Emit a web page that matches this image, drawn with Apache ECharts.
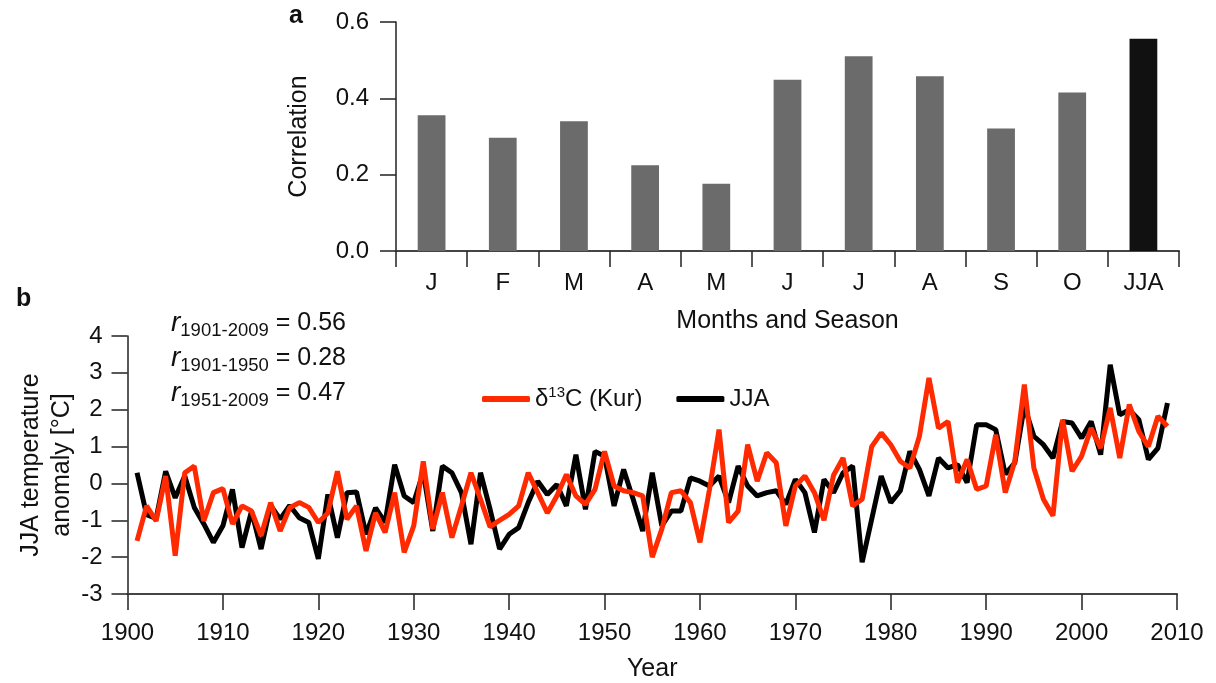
<!DOCTYPE html>
<html>
<head>
<meta charset="utf-8">
<script src="https://cdn.jsdelivr.net/npm/echarts@6/dist/echarts.min.js"></script>
<style>
  html, body { margin: 0; padding: 0; background: #fff; }
  #chart { width: 1216px; height: 683px; }
</style>
</head>
<body>
<div id="chart"></div>
<script>
// Panel a: correlation of δ13C with monthly and summer (JJA) temperature
const months = ['J', 'F', 'M', 'A', 'M', 'J', 'J', 'A', 'S', 'O', 'JJA'];
const correlations = [0.356, 0.297, 0.340, 0.225, 0.176, 0.449, 0.510, 0.458, 0.321, 0.415, 0.556];

// Panel b: annual series 1901-2009
const firstYear = 1901;
const jjaAnomaly = [
  0.29, -0.85, -0.95, 0.33, -0.39, 0.20, -0.65, -1.10, -1.60, -1.15,
  -0.16, -1.74, -0.75, -1.78, -0.60, -0.97, -0.60, -0.93, -1.06, -2.05,
  -0.30, -1.47, -0.25, -0.23, -1.38, -0.66, -1.06, 0.51, -0.34, -0.52,
  0.30, -1.29, 0.47, 0.29, -0.25, -1.65, 0.29, -0.70, -1.78, -1.38,
  -1.20, -0.52, 0.06, -0.30, -0.03, -0.61, 0.78, -0.70, 0.87, 0.74,
  -0.61, 0.38, -0.43, -1.29, 0.29, -1.15, -0.75, -0.75, 0.15, 0.06,
  -0.07, 0.20, -0.52, 0.47, -0.07, -0.34, -0.25, -0.20, -0.57, 0.11,
  -0.25, -1.33, 0.11, -0.25, 0.29, 0.47, -2.14, -0.97, 0.20, -0.52,
  -0.20, 0.87, 0.38, -0.34, 0.69, 0.42, 0.51, 0.02, 1.59, 1.59,
  1.46, 0.25, 0.56, 2.10, 1.28, 1.05, 0.69, 1.68, 1.64, 1.23,
  1.68, 0.78, 3.22, 1.86, 2.00, 1.73, 0.65, 0.96, 2.18
];
const d13cKur = [
  -1.56, -0.61, -1.02, 0.20, -1.96, 0.29, 0.47, -1.02, -0.25, -0.14,
  -1.10, -0.61, -0.75, -1.42, -0.52, -1.29, -0.66, -0.52, -0.65, -1.06,
  -0.80, 0.33, -0.97, -0.61, -1.83, -0.80, -1.33, -0.25, -1.87, -1.15,
  0.60, -1.24, -0.25, -1.47, -0.61, 0.29, -0.43, -1.18, -1.00, -0.84,
  -0.61, 0.29, -0.25, -0.80, -0.34, 0.24, -0.34, -0.57, -0.16, 0.87,
  -0.07, -0.20, -0.25, -0.34, -2.00, -1.24, -0.25, -0.20, -0.52, -1.60,
  -0.16, 1.46, -1.06, -0.75, 1.05, 0.06, 0.83, 0.56, -1.15, -0.07,
  0.20, -0.25, -1.00, 0.22, 0.69, -0.61, -0.43, 1.00, 1.37, 1.05,
  0.60, 0.42, 1.28, 2.86, 1.50, 1.68, 0.02, 0.65, -0.16, -0.07,
  1.32, -0.25, 0.60, 2.68, 0.42, -0.43, -0.88, 1.73, 0.33, 0.74,
  1.50, 0.96, 2.05, 0.69, 2.14, 1.41, 1.00, 1.82, 1.55
];

// Correlation statistics printed in panel b
const statPeriods = ['1901-2009', '1901-1950', '1951-2009'];
const statValues = ['0.56', '0.28', '0.47'];

const FONT = '"Liberation Sans", Arial, Helvetica, sans-serif';
const INK = '#111';
const GREY_BAR = '#6b6b6b';
const JJA_BAR = '#111111';
const RED = '#ff2a00';
const TICK_FS = 24;
const NAME_FS = 25;

const toPairs = (vals) => vals.map((v, i) => [firstYear + i, v]);

const chart = echarts.init(document.getElementById('chart'), null, { renderer: 'canvas' });

const axisLineStyle = { lineStyle: { color: '#222', width: 1.5 } };
const tickStyle = { show: true, inside: false, length: 16, lineStyle: { color: '#222', width: 1.5 } };
const labelBase = { color: INK, fontSize: TICK_FS, fontFamily: FONT };
const nameStyle = { color: INK, fontSize: NAME_FS, fontFamily: FONT };

const statsText = statPeriods
  .map((p, i) => `{r|r}{s|${p}}{e| = ${statValues[i]}}`)
  .join('\n');

chart.setOption({
  animation: false,
  backgroundColor: '#fff',
  textStyle: { fontFamily: FONT },
  grid: [
    { left: 396, top: 22, width: 783, height: 229 },
    { left: 127.5, top: 336, width: 1049.5, height: 259 }
  ],
  xAxis: [
    {
      gridIndex: 0,
      type: 'category',
      data: months,
      boundaryGap: true,
      axisLine: { lineStyle: { color: '#444', width: 2 } },
      axisTick: Object.assign({}, tickStyle, { interval: 0 }),
      axisLabel: Object.assign({}, labelBase, { interval: 0, margin: 20 }),
      name: 'Months and Season',
      nameLocation: 'middle',
      nameGap: 58,
      nameTextStyle: nameStyle
    },
    {
      gridIndex: 1,
      type: 'value',
      min: 1900,
      max: 2010,
      interval: 10,
      axisLine: { onZero: false, lineStyle: { color: '#444', width: 2 } },
      axisTick: tickStyle,
      axisLabel: Object.assign({}, labelBase, { margin: 27, formatter: (v) => String(v) }),
      splitLine: { show: false },
      name: 'Year',
      nameLocation: 'middle',
      nameGap: 63,
      nameTextStyle: nameStyle
    }
  ],
  yAxis: [
    {
      gridIndex: 0,
      type: 'value',
      min: 0,
      max: 0.6,
      interval: 0.2,
      axisLine: Object.assign({ show: true }, axisLineStyle),
      axisTick: tickStyle,
      axisLabel: Object.assign({}, labelBase, { margin: 27, formatter: (v) => v.toFixed(1) }),
      splitLine: { show: false },
      name: 'Correlation',
      nameLocation: 'middle',
      nameGap: 84,
      nameTextStyle: nameStyle
    },
    {
      gridIndex: 1,
      type: 'value',
      min: -3,
      max: 4,
      interval: 1,
      axisLine: Object.assign({ show: true, onZero: false }, axisLineStyle),
      axisTick: tickStyle,
      axisLabel: Object.assign({}, labelBase, { margin: 25 }),
      splitLine: { show: false },
      name: 'JJA temperature\nanomaly [°C]',
      nameLocation: 'middle',
      nameGap: 50,
      nameMoveOverlap: false,
      nameTextStyle: Object.assign({ lineHeight: 31 }, nameStyle)
    }
  ],
  legend: {
    left: 477,
    top: 380,
    itemWidth: 48,
    itemHeight: 6,
    itemGap: 34,
    icon: 'roundRect',
    data: ['δ13C (Kur)', 'JJA'],
    formatter: (name) => (name === 'δ13C (Kur)' ? '{t|δ}{sup|13}{t|C (Kur)}' : '{t|' + name + '}'),
    textStyle: {
      color: INK,
      fontFamily: FONT,
      fontSize: 24,
      rich: {
        t: { fontSize: 24, fontFamily: FONT, color: INK, lineHeight: 28 },
        sup: { fontSize: 15, fontFamily: FONT, color: INK, lineHeight: 18, verticalAlign: 'top' }
      }
    }
  },
  graphic: [
    {
      type: 'text', left: 289, top: 4,
      style: { text: 'a', fontSize: 25, fontWeight: 'bold', fontFamily: FONT, fill: INK }
    },
    {
      type: 'text', left: 16, top: 287,
      style: { text: 'b', fontSize: 25, fontWeight: 'bold', fontFamily: FONT, fill: INK }
    },
    {
      type: 'text', left: 171, top: 309,
      style: {
        text: statsText,
        fill: INK,
        fontFamily: FONT,
        rich: {
          r: { fontSize: 28, fontStyle: 'italic', fontFamily: FONT, fill: INK, lineHeight: 35 },
          s: { fontSize: 18.5, fontFamily: FONT, fill: INK, lineHeight: 16, verticalAlign: 'bottom' },
          e: { fontSize: 25, fontFamily: FONT, fill: INK, lineHeight: 35 }
        }
      }
    }
  ],
  series: [
    {
      name: 'Correlation',
      type: 'bar',
      xAxisIndex: 0,
      yAxisIndex: 0,
      barWidth: '39%',
      data: correlations.map((v, i) => ({
        value: v,
        itemStyle: { color: months[i] === 'JJA' ? JJA_BAR : GREY_BAR }
      }))
    },
    {
      name: 'JJA',
      type: 'line',
      xAxisIndex: 1,
      yAxisIndex: 1,
      data: toPairs(jjaAnomaly),
      symbol: 'none',
      color: '#000',
      lineStyle: { color: '#000', width: 5 }
    },
    {
      name: 'δ13C (Kur)',
      type: 'line',
      xAxisIndex: 1,
      yAxisIndex: 1,
      data: toPairs(d13cKur),
      symbol: 'none',
      color: RED,
      lineStyle: { color: RED, width: 5 }
    }
  ]
});
</script>
</body>
</html>
